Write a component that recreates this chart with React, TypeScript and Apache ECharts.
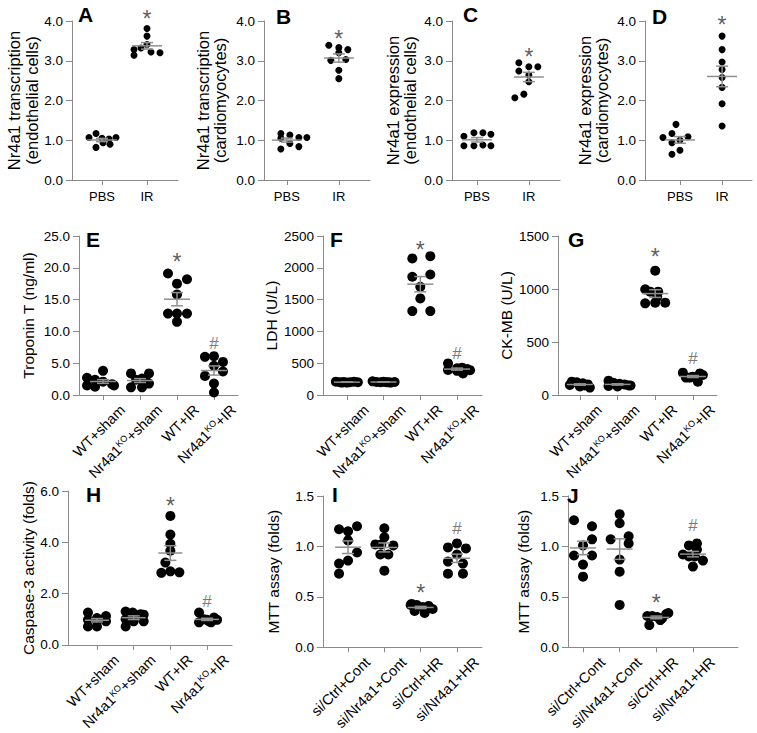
import React, { useEffect, useRef } from 'react';
import * as echarts from 'echarts';

// ---------- categories ----------
const PBS_IR = ['PBS', 'IR'];
const MICE = ['WT+sham', 'Nr4a1{sup|KO}+sham', 'WT+IR', 'Nr4a1{sup|KO}+IR'];
const CELLS = ['si/Ctrl+Cont', 'si/Nr4a1+Cont', 'si/Ctrl+HR', 'si/Nr4a1+HR'];

// ---------- values ----------
const A_PBS = [1.07, 1.17, 1.05, 1.03, 1.07, 0.82, 0.94, 0.9];
const A_IR = [3.81, 3.62, 3.41, 3.28, 3.32, 3.14, 3.22, 3.2];
const B_PBS = [1.17, 1.13, 1.05, 1.07, 1.07, 0.92, 0.78, 0.84];
const B_IR = [3.39, 3.33, 3.28, 3.2, 3.01, 3.03, 2.76, 2.55];
const C_PBS = [1.1, 1.19, 1.19, 1.15, 0.86, 0.86, 0.88, 0.86];
const C_IR = [2.95, 2.85, 2.85, 2.74, 2.64, 2.47, 2.07, 2.16];
const D_PBS = [1.4, 1.07, 1.17, 1.09, 0.94, 1.0, 0.65, 0.75];
const D_IR = [3.62, 3.28, 2.97, 2.78, 2.58, 2.33, 1.92, 1.36];

const E_WT_SHAM = [3.8, 2.7, 2.4, 2.1, 1.7, 1.5, 1.3, 1.5];
const E_KO_SHAM = [3.4, 3.4, 2.6, 2.4, 2.2, 1.8, 1.2, 1.2];
const E_WT_IR = [19.1, 18.2, 17.5, 15.8, 12.8, 12.8, 12.8, 11.5];
const E_KO_IR = [6.0, 6.1, 5.2, 4.6, 3.7, 3.0, 1.8, 0.4];

const F_WT_SHAM = [210, 200, 205, 195, 200, 210, 200, 195];
const F_KO_SHAM = [215, 205, 200, 210, 200, 195, 205, 200];
const F_WT_IR = [2147, 2183, 1859, 1895, 1702, 1518, 1319, 1319];
const F_KO_IR = [497, 393, 419, 430, 410, 390, 340, 380];

const G_WT_SHAM = [126, 120, 110, 100, 95, 80, 70, 90];
const G_KO_SHAM = [135, 115, 105, 100, 90, 85, 80, 90];
const G_WT_IR = [1173, 997, 975, 975, 928, 865, 871, 871];
const G_KO_IR = [211, 204, 164, 164, 189, 126, 164, 173];

const H_WT_SHAM = [1.26, 0.98, 0.72, 0.92, 0.72, 1.13, 0.92, 1.05];
const H_KO_SHAM = [1.3, 1.26, 1.2, 1.18, 1.0, 0.92, 0.92, 0.72];
const H_WT_IR = [5.03, 4.3, 3.94, 3.67, 3.21, 2.81, 2.87, 2.83];
const H_KO_IR = [1.26, 0.88, 0.98, 1.07, 0.88, 0.98, 1.0, 0.92];

const I_CTRL_CONT = [1.17, 1.15, 1.2, 1.06, 0.94, 0.86, 0.83, 0.73];
const I_NR_CONT = [1.18, 1.09, 1.02, 1.02, 1.01, 0.92, 0.92, 0.76];
const I_CTRL_HR = [0.43, 0.42, 0.4, 0.41, 0.38, 0.36, 0.34, 0.42];
const I_NR_HR = [0.99, 1.03, 0.98, 0.92, 0.85, 0.83, 0.73, 0.73];

const J_CTRL_CONT = [1.26, 1.2, 1.07, 1.01, 0.91, 0.91, 0.82, 0.7];
const J_NR_CONT = [1.32, 1.23, 1.07, 1.1, 1.03, 0.87, 0.75, 0.42];
const J_CTRL_HR = [0.31, 0.31, 0.3, 0.29, 0.33, 0.34, 0.27, 0.22];
const J_NR_HR = [1.03, 1.01, 0.97, 0.92, 0.9, 0.9, 0.86, 0.8];

// significance marks: group index, value level, symbol
const A_MARKS = [{ g: 1, y: 4.18, t: '*' }];
const B_MARKS = [{ g: 1, y: 3.68, t: '*' }];
const C_MARKS = [{ g: 1, y: 3.22, t: '*' }];
const D_MARKS = [{ g: 1, y: 4.02, t: '*' }];
const E_MARKS = [{ g: 2, y: 21.7, t: '*' }, { g: 3, y: 8.1, t: '#' }];
const F_MARKS = [{ g: 2, y: 2356, t: '*' }, { g: 3, y: 654, t: '#' }];
const G_MARKS = [{ g: 2, y: 1352, t: '*' }, { g: 3, y: 346, t: '#' }];
const H_MARKS = [{ g: 2, y: 5.6, t: '*' }, { g: 3, y: 1.7, t: '#' }];
const I_MARKS = [{ g: 3, y: 1.18, t: '#' }, { g: 2, y: 0.585, t: '*' }];
const J_MARKS = [{ g: 3, y: 1.21, t: '#' }, { g: 2, y: 0.49, t: '*' }];

// ---------- horizontal scatter of dots inside each group (px) ----------
const JIT_A = [[-13, -6, 0, 7, 14, -6, 1, 8], [0, 0, 0, -13, -6, -13, 4, 13]];
const JIT_B = [[-6, 3, -6, 12, 20, 3, -6, 12], [-10, 0, 9, 0, -8, 7, 0, 0]];
const JIT_C = [[-13, -3, 6, 14, -13, -3, 6, 14], [-10, 0, 9, -10, 0, 0, -14, -5]];
const JIT_D = [[-4, -17, -8, 8, -8, 0, -8, 0], [0, 0, 0, 0, 0, 0, 0, 0]];
const JIT_E = [[0, -16, -8, 0, 9, -16, -8, 11], [-9, 9, 2, -4, 6, 9, -9, 2], [-9, 10, 0, 0, -9, 0, 10, 0], [-9, 0, 9, 0, 9, -9, 0, 0]];
const JIT_F = [[-11, -7, -3, 0, 3, 7, 11, -5], [-11, -7, -3, 0, 3, 7, 11, 5], [-8, 10, -8, 10, 0, 0, -8, 10], [-9, -9, 0, 5, 10, 13, 6, 0]];
const JIT_G = [[-8, -3, 3, 8, -10, 0, 10, 5], [-9, -4, 2, 7, 11, -9, 0, 13], [0, -10, -5, 3, 2, -10, 0, 10], [-10, 7, -3, 4, 10, 5, -7, 0]];
const JIT_H = [[-9, -9, -9, 0, 0, 9, 9, 0], [-8, -1, 7, 10, -8, 0, 10, -8], [0, 0, 0, 0, -5, -9, 0, 9], [-8, -8, 0, 7, 4, 10, -3, 2]];
const JIT_I = [[-9, 0, 9, 0, 9, 0, -9, -9], [0, 0, -9, -3, 9, -4, 4, 0], [-9, -4, 2, 8, 12, -6, 4, -10], [-9, 0, 9, 0, -9, 6, -9, 6]];
const JIT_J = [[-9, 9, 9, 0, -9, 9, 0, 0], [0, 0, -9, 9, 9, 0, 0, 0], [-9, -4, 1, 6, 10, 12, 4, -7], [4, -4, 4, -10, -4, 2, 10, 0]];

const AXIS = '#8a8a8a';
const BAR = '#8f8f8f';
const FONT = '"Liberation Sans", Arial, Helvetica, sans-serif';

type Panel = {
  letter: string; cats: string[]; groups: number[][]; jitter: number[][]; marks: { g: number; y: number; t: string }[];
  yMax: number; yInt: number; dec: number; name: string; nameGap: number; nameSize: number;
  grid: { left: number; top: number; width: number; height: number }; xr: [number, number];
  lp: [number, number]; dot: number; rotate: boolean; meanW: number;
};

const panels: Panel[] = [
  { letter: 'A', cats: PBS_IR, groups: [A_PBS, A_IR], jitter: JIT_A, marks: A_MARKS, yMax: 4, yInt: 1, dec: 1,
    name: 'Nr4a1 transcription\n(endothelial cells)', nameGap: 29, nameSize: 16.5, grid: { left: 72, top: 21, width: 106, height: 159 }, xr: [-0.667, 1.689], lp: [78, 4], dot: 7, rotate: false, meanW: 30 },
  { letter: 'B', cats: PBS_IR, groups: [B_PBS, B_IR], jitter: JIT_B, marks: B_MARKS, yMax: 4, yInt: 1, dec: 1,
    name: 'Nr4a1 transcription\n(cardiomyocytes)', nameGap: 35, nameSize: 16.5, grid: { left: 264, top: 21, width: 106, height: 159 }, xr: [-0.44, 1.6], lp: [276, 6], dot: 7, rotate: false, meanW: 30 },
  { letter: 'C', cats: PBS_IR, groups: [C_PBS, C_IR], jitter: JIT_C, marks: C_MARKS, yMax: 4, yInt: 1, dec: 1,
    name: 'Nr4a1 expression\n(endothelial cells)', nameGap: 33, nameSize: 16.5, grid: { left: 452, top: 21, width: 108, height: 159 }, xr: [-0.48, 1.6], lp: [463, 4], dot: 7, rotate: false, meanW: 30 },
  { letter: 'D', cats: PBS_IR, groups: [D_PBS, D_IR], jitter: JIT_D, marks: D_MARKS, yMax: 4, yInt: 1, dec: 1,
    name: 'Nr4a1 expression\n(cardiomyocytes)', nameGap: 34, nameSize: 16.5, grid: { left: 645, top: 21, width: 107, height: 159 }, xr: [-0.83, 1.71], lp: [652, 6], dot: 7, rotate: false, meanW: 30 },
  { letter: 'E', cats: MICE, groups: [E_WT_SHAM, E_KO_SHAM, E_WT_IR, E_KO_IR], jitter: JIT_E, marks: E_MARKS, yMax: 25, yInt: 5, dec: 1,
    name: 'Troponin T (ng/ml)', nameGap: 42, nameSize: 15.5, grid: { left: 79, top: 236, width: 159, height: 159 }, xr: [-0.65, 3.65], lp: [86, 229], dot: 10, rotate: true, meanW: 26 },
  { letter: 'F', cats: MICE, groups: [F_WT_SHAM, F_KO_SHAM, F_WT_IR, F_KO_IR], jitter: JIT_F, marks: F_MARKS, yMax: 2500, yInt: 500, dec: 0,
    name: 'LDH (U/L)', nameGap: 40, nameSize: 15.5, grid: { left: 323, top: 236, width: 159, height: 159 }, xr: [-0.65, 3.68], lp: [330, 229], dot: 10, rotate: true, meanW: 26 },
  { letter: 'G', cats: MICE, groups: [G_WT_SHAM, G_KO_SHAM, G_WT_IR, G_KO_IR], jitter: JIT_G, marks: G_MARKS, yMax: 1500, yInt: 500, dec: 0,
    name: 'CK-MB (U/L)', nameGap: 40, nameSize: 15.5, grid: { left: 558, top: 236, width: 159, height: 159 }, xr: [-0.58, 3.64], lp: [568, 229], dot: 10, rotate: true, meanW: 26 },
  { letter: 'H', cats: MICE, groups: [H_WT_SHAM, H_KO_SHAM, H_WT_IR, H_KO_IR], jitter: JIT_H, marks: H_MARKS, yMax: 6, yInt: 2, dec: 1,
    name: 'Caspase-3 activity (folds)', nameGap: 31, nameSize: 15.5, grid: { left: 68, top: 491, width: 164, height: 159 }, xr: [-0.79, 3.68], lp: [86, 484], dot: 10, rotate: true, meanW: 24 },
  { letter: 'I', cats: CELLS, groups: [I_CTRL_CONT, I_NR_CONT, I_CTRL_HR, I_NR_HR], jitter: JIT_I, marks: I_MARKS, yMax: 1.5, yInt: 0.5, dec: 1,
    name: 'MTT assay (folds)', nameGap: 41, nameSize: 15.5, grid: { left: 323, top: 496, width: 159, height: 160 }, xr: [-0.69, 3.69], lp: [332, 484], dot: 10, rotate: true, meanW: 26 },
  { letter: 'J', cats: CELLS, groups: [J_CTRL_CONT, J_NR_CONT, J_CTRL_HR, J_NR_HR], jitter: JIT_J, marks: J_MARKS, yMax: 1.5, yInt: 0.5, dec: 1,
    name: 'MTT assay (folds)', nameGap: 36, nameSize: 15.5, grid: { left: 568, top: 496, width: 170, height: 160 }, xr: [-0.41, 4.23], lp: [567, 485], dot: 10, rotate: true, meanW: 26 },
];

const mean = (a: number[]) => a.reduce((s, v) => s + v, 0) / a.length;
const sem = (a: number[]) => {
  const m = mean(a);
  const sd = Math.sqrt(a.reduce((s, v) => s + (v - m) * (v - m), 0) / (a.length - 1));
  return sd / Math.sqrt(a.length);
};

function buildOption() {
  const grid: any[] = [];
  const xAxis: any[] = [];
  const yAxis: any[] = [];
  const series: any[] = [];
  const title: any[] = [];

  panels.forEach((p, k) => {
    const idx = p.cats.map((_, i) => i);
    grid.push({ ...p.grid });
    title.push({ text: p.letter, left: p.lp[0], top: p.lp[1], padding: 0,
      textStyle: { fontSize: 21, fontWeight: 'bold', color: '#000', fontFamily: FONT } });
    xAxis.push({
      gridIndex: k, type: 'value', min: p.xr[0], max: p.xr[1], splitLine: { show: false },
      axisLine: { show: true, onZero: false, lineStyle: { color: AXIS, width: 1 } },
      axisTick: { show: true, customValues: idx, length: 5, lineStyle: { color: AXIS } },
      axisLabel: p.rotate
        ? { customValues: idx, formatter: (v: number) => p.cats[Math.round(v)], rotate: 45, margin: -7,
            verticalAlign: 'top', padding: [20, 0, 0, 0], fontSize: 14.5, color: '#000', fontFamily: FONT,
            rich: { sup: { fontSize: 9, verticalAlign: 'top', color: '#000', fontFamily: FONT } } }
        : { customValues: idx, formatter: (v: number) => p.cats[Math.round(v)], margin: 10, fontSize: 13,
            color: '#000', fontFamily: FONT },
    });
    yAxis.push({
      gridIndex: k, type: 'value', min: 0, max: p.yMax, interval: p.yInt, splitLine: { show: false },
      axisLine: { show: true, onZero: false, lineStyle: { color: AXIS, width: 1 } },
      axisTick: { show: true, inside: false, length: 6, lineStyle: { color: AXIS } },
      axisLabel: { formatter: (v: number) => v.toFixed(p.dec), margin: 9, fontSize: 13.5, color: '#000', fontFamily: FONT },
      name: p.name, nameLocation: 'middle', nameRotate: 90, nameGap: p.nameGap,
      nameTextStyle: { fontSize: p.nameSize, lineHeight: p.nameSize + 1, color: '#000', fontFamily: FONT },
    });
    // dots
    const dots: any[] = [];
    p.groups.forEach((vals, g) => {
      vals.forEach((v, i) => dots.push({ value: [g, v], symbolOffset: [p.jitter[g][i], 0] }));
    });
    series.push({
      type: 'scatter', xAxisIndex: k, yAxisIndex: k, data: dots, symbolSize: p.dot, z: 2,
      itemStyle: { color: '#000', opacity: 1 }, clip: false,
    });
    // mean ± SEM
    const meanW = p.meanW;
    series.push({
      type: 'custom', xAxisIndex: k, yAxisIndex: k, z: 3,
      data: p.groups.map((vals, g) => [g, mean(vals), sem(vals)]),
      encode: { x: 0, y: 1 },
      renderItem: (_params: any, api: any) => {
        const g = api.value(0), m = api.value(1), s = api.value(2);
        const c = api.coord([g, m]);
        const hi = api.coord([g, m + s]);
        const lo = api.coord([g, m - s]);
        const style = { stroke: BAR, lineWidth: 1.5 };
        const cw = 12;
        return {
          type: 'group',
          children: [
            { type: 'line', shape: { x1: c[0] - meanW / 2, y1: c[1], x2: c[0] + meanW / 2, y2: c[1] }, style },
            { type: 'line', shape: { x1: c[0], y1: hi[1], x2: c[0], y2: lo[1] }, style },
            { type: 'line', shape: { x1: c[0] - cw / 2, y1: hi[1], x2: c[0] + cw / 2, y2: hi[1] }, style },
            { type: 'line', shape: { x1: c[0] - cw / 2, y1: lo[1], x2: c[0] + cw / 2, y2: lo[1] }, style },
          ],
        };
      },
    });
    // significance marks
    series.push({
      type: 'scatter', xAxisIndex: k, yAxisIndex: k, symbolSize: 1, clip: false, z: 4,
      itemStyle: { color: 'rgba(0,0,0,0)' },
      data: p.marks.map((mk) => ({ name: mk.t, value: [mk.g, mk.y],
        label: { fontSize: mk.t === '*' ? 23 : 17, color: mk.t === '*' ? '#333' : '#555', offset: [0, mk.t === '*' ? 5 : 0] } })),
      label: { show: true, position: 'inside', formatter: '{b}', fontFamily: FONT },
    });
  });

  return { animation: false, backgroundColor: '#fff', title, grid, xAxis, yAxis, series };
}

export default function App() {
  const ref = useRef<HTMLDivElement>(null);
  useEffect(() => {
    if (!ref.current) return;
    const chart = echarts.init(ref.current, undefined, { renderer: 'svg' });
    chart.setOption(buildOption() as any);
    return () => chart.dispose();
  }, []);
  return <div ref={ref} style={{ position: 'absolute', left: 0, top: 0, width: 757, height: 733 }} />;
}
